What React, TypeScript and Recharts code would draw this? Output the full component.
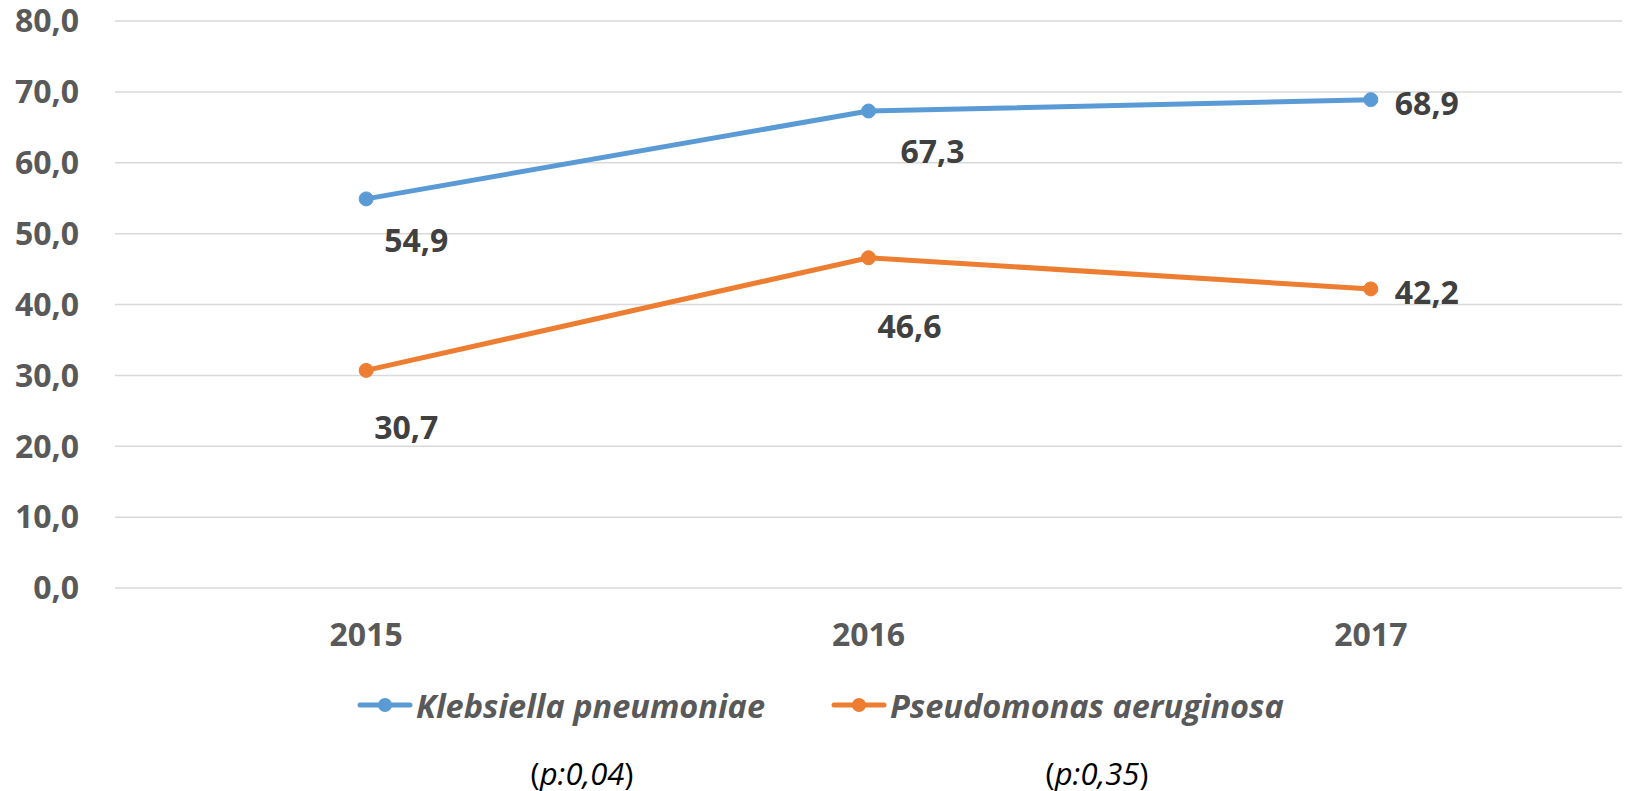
import { LineChart, Line, XAxis, YAxis, CartesianGrid, Legend, LabelList } from "recharts";

const years = ["2015", "2016", "2017"];
const klebsiella = [54.9, 67.3, 68.9];
const pseudomonas = [30.7, 46.6, 42.2];
const yTicks = [0, 10, 20, 30, 40, 50, 60, 70, 80];
const seriesNames = ["Klebsiella pneumoniae", "Pseudomonas aeruginosa"];
const pValues = ["p:0,04", "p:0,35"];

const data = years.map((year, i) => ({
  year,
  kp: klebsiella[i],
  pa: pseudomonas[i],
}));

const BLUE = "#5B9BD5";
const ORANGE = "#ED7D31";
const FONT = "'Open Sans', sans-serif";

const fmt = (v: number) => v.toFixed(1).replace(".", ",");

// label placement (Excel had them dragged by hand)
const kpOffsets = [
  [50, 41],
  [64, 39],
  [56, 3],
];
const paOffsets = [
  [40, 56],
  [41, 68],
  [56, 3],
];

const makeLabel = (offsets: number[][]) => (props: any) => {
  const { x, y, value, index } = props;
  const [dx, dy] = offsets[index] || [0, 0];
  return (
    <text
      x={x + dx}
      y={y + dy}
      textAnchor="middle"
      dominantBaseline="central"
      fill="#404040"
      fontFamily={FONT}
      fontWeight={700}
      fontSize={32}
    >
      {fmt(value)}
    </text>
  );
};

const LegendSwatch = ({ color }: { color: string }) => (
  <svg width={56} height={16} style={{ display: "block" }}>
    <line x1={3} y1={8} x2={53} y2={8} stroke={color} strokeWidth={5} strokeLinecap="round" />
    <circle cx={28} cy={8} r={7} fill={color} />
  </svg>
);

const CustomLegend = () => {
  const items = [
    { name: seriesNames[0], color: BLUE, left: 357, p: pValues[0], pCenter: 582 },
    { name: seriesNames[1], color: ORANGE, left: 831, p: pValues[1], pCenter: 1097 },
  ];
  return (
    <div style={{ position: "relative", width: 1628, height: 111, fontFamily: FONT }}>
      {items.map((it) => (
        <div
          key={it.name}
          style={{
            position: "absolute",
            left: it.left,
            top: 0,
            height: 50,
            display: "flex",
            alignItems: "center",
            gap: 3,
          }}
        >
          <LegendSwatch color={it.color} />
          <span
            style={{
              fontStyle: "italic",
              fontWeight: 700,
              fontSize: 32.5,
              color: "#595959",
              whiteSpace: "nowrap",
            }}
          >
            {it.name}
          </span>
        </div>
      ))}
      {items.map((it) => (
        <div
          key={it.p}
          style={{
            position: "absolute",
            left: it.pCenter,
            top: 73,
            height: 40,
            transform: "translateX(-50%)",
            fontSize: 31,
            color: "#000",
            whiteSpace: "nowrap",
            lineHeight: "40px",
          }}
        >
          (<i>{it.p}</i>)
        </div>
      ))}
    </div>
  );
};

export default function App() {
  return (
    <div style={{ position: "absolute", left: 0, top: 0, background: "#fff" }}>
      <LineChart width={1628} height={791} data={data} margin={{ top: 21, right: 6, left: 0, bottom: 0 }}>
        <CartesianGrid vertical={false} stroke="#D9D9D9" strokeWidth={1.5} />
        <XAxis
          dataKey="year"
          scale="band"
          height={203}
          axisLine={false}
          tickLine={false}
          tickMargin={29}
          tick={{ fill: "#595959", fontFamily: FONT, fontWeight: 700, fontSize: 32 }}
        />
        <YAxis
          domain={[0, 80]}
          ticks={yTicks}
          width={115}
          axisLine={false}
          tickLine={false}
          tickMargin={30}
          tickFormatter={fmt}
          tick={{ fill: "#595959", fontFamily: FONT, fontWeight: 700, fontSize: 32 }}
        />
        <Legend
          verticalAlign="middle"
          align="center"
          layout="horizontal"
          wrapperStyle={{ top: 680, left: 0, width: 1628 }}
          content={<CustomLegend />}
        />
        <Line
          dataKey="kp"
          name={seriesNames[0]}
          stroke={BLUE}
          strokeWidth={5}
          dot={{ r: 7, fill: BLUE, stroke: BLUE, strokeWidth: 1 }}
          isAnimationActive={false}
        >
          <LabelList dataKey="kp" content={makeLabel(kpOffsets)} />
        </Line>
        <Line
          dataKey="pa"
          name={seriesNames[1]}
          stroke={ORANGE}
          strokeWidth={5}
          dot={{ r: 7, fill: ORANGE, stroke: ORANGE, strokeWidth: 1 }}
          isAnimationActive={false}
        >
          <LabelList dataKey="pa" content={makeLabel(paOffsets)} />
        </Line>
      </LineChart>
    </div>
  );
}
